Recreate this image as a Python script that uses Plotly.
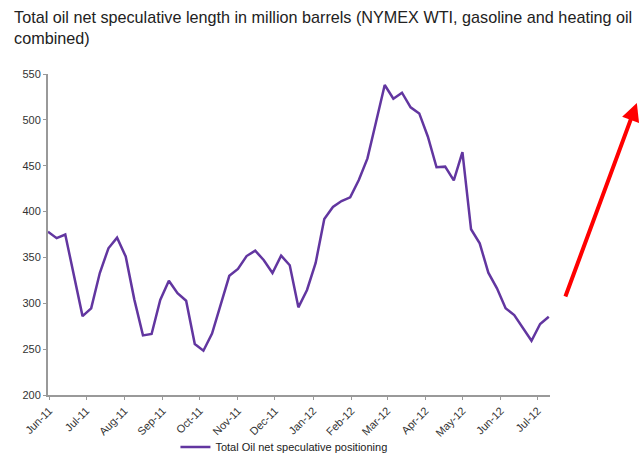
import plotly.graph_objects as go
import pandas as pd

first_week = "2011-05-31"
values = [378, 371, 375, 330, 286, 294.5, 333, 360, 371.5, 351,
          304, 265, 266.5, 303.6, 324.6, 311, 302.8, 255.6, 248.3, 267,
          300, 330, 337.4, 351.5, 357.3, 347, 333, 352, 341.5, 295.6,
          314.5, 344, 392, 405, 411.5, 415.5, 434.5, 458, 498, 538,
          523, 529.6, 513.7, 507, 481.6, 448.3, 449, 434, 464.7, 380.7,
          365.4, 333.4, 316.3, 294.5, 287.2, 272.7, 259.2, 277.4, 285.4]
dates = pd.date_range(first_week, periods=len(values), freq="7D")
series_name = "Total Oil net speculative positioning"
title_text = ("Total oil net speculative length in million barrels (NYMEX WTI, gasoline and heating oil"
              "<br>combined)")

fig = go.Figure()
fig.add_trace(go.Scatter(x=dates, y=values, mode="lines", name=series_name,
                         line=dict(color="#6236A0", width=2.5)))

fig.update_layout(
    width=639, height=454,
    margin=dict(l=48, r=89, t=74, b=59, autoexpand=False),
    paper_bgcolor="white", plot_bgcolor="white",
    font=dict(family="Liberation Sans, Arial, sans-serif", color="#333333"),
    title=dict(text=title_text, x=0.022, xanchor="left", y=0.95, yanchor="top",
               font=dict(size=16.2, color="#222222")),
    showlegend=True,
    legend=dict(orientation="h", x=0.47, xanchor="center", y=-0.162, yanchor="middle",
                font=dict(size=11, color="#222222"), itemwidth=30,
                bgcolor="rgba(0,0,0,0)"),
    xaxis=dict(range=["2011-05-31", "2012-07-11"], tickformat="%b-%y", dtick="M1",
               tick0="2011-06-01", tickangle=-45, showgrid=False,
               showline=True, linecolor="#999999", linewidth=2,
               ticks="outside", ticklen=3, tickcolor="#999999",
               tickfont=dict(size=11, color="#333333"), zeroline=False),
    yaxis=dict(range=[200, 550], dtick=50, showgrid=False,
               showline=True, linecolor="#999999", linewidth=2,
               ticks="outside", ticklen=3, tickcolor="#999999",
               tickfont=dict(size=11, color="#333333"), zeroline=False),
)

fig.add_annotation(x=1.173, y=0.9097, xref="paper", yref="paper",
                   ax=-72, ay=195, axref="pixel", ayref="pixel",
                   showarrow=True, arrowhead=2, arrowsize=0.9, arrowwidth=4,
                   arrowcolor="#FF0000", text="")

fig.write_html("out.html")
